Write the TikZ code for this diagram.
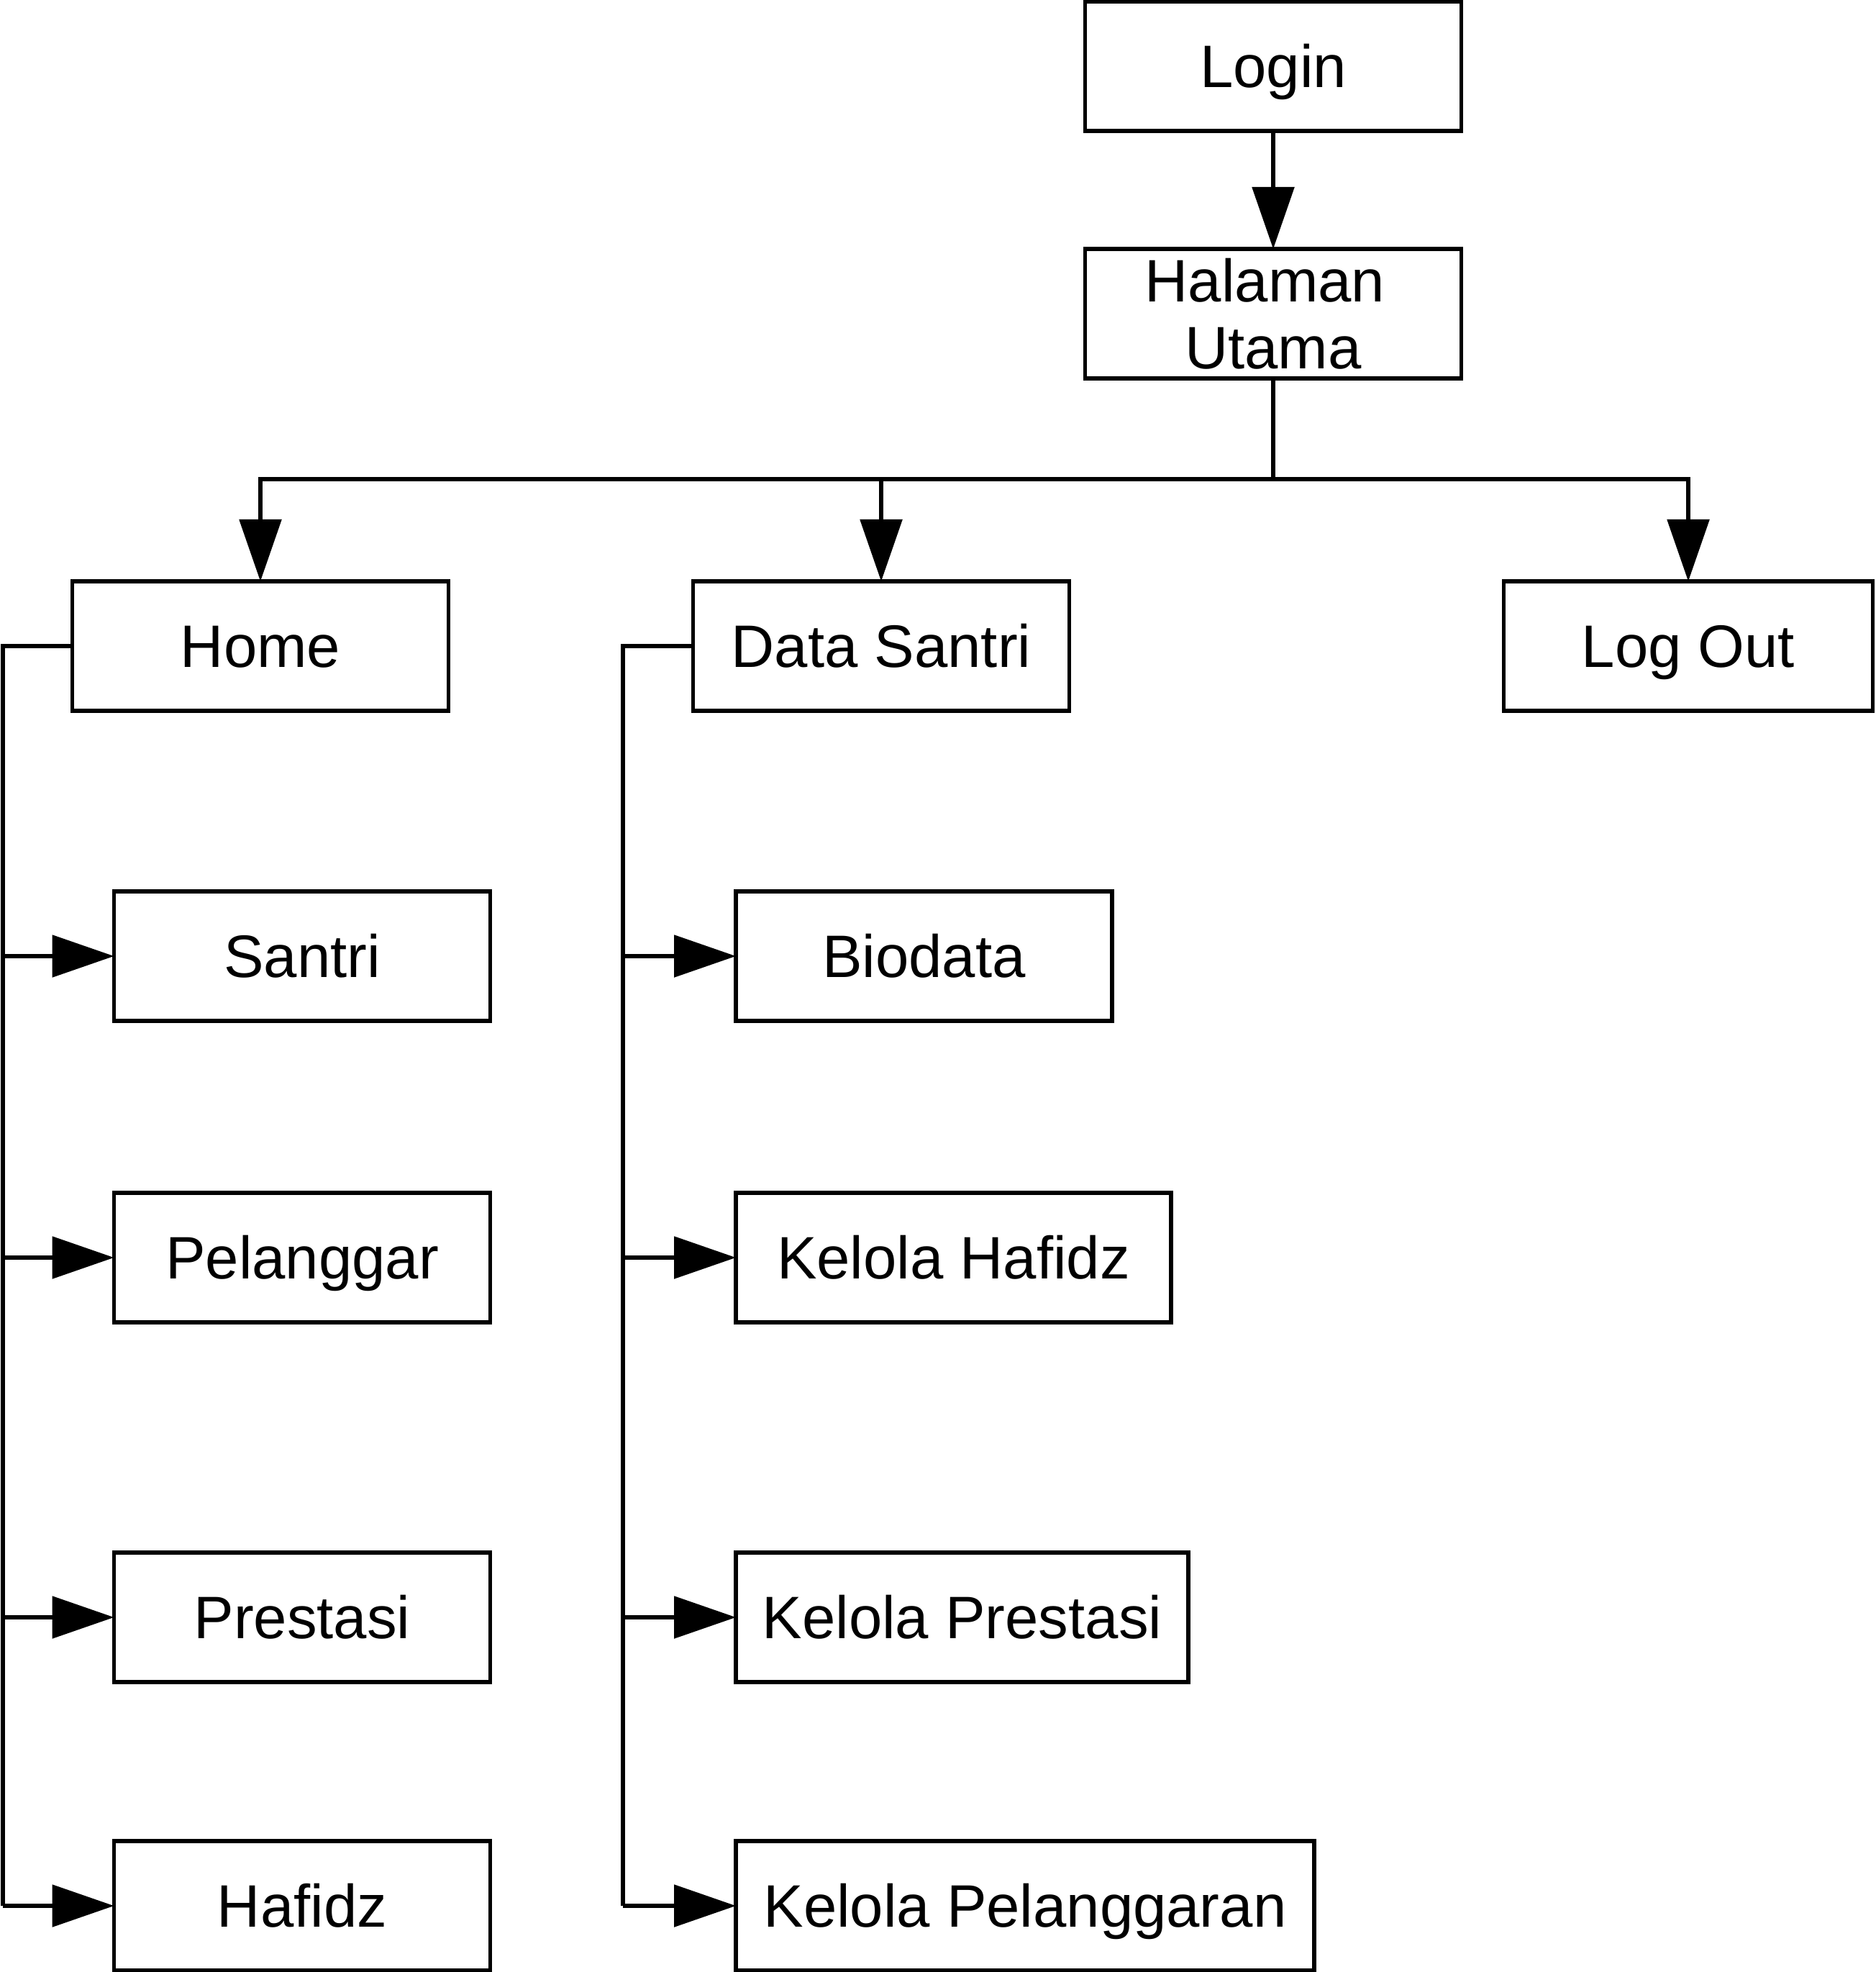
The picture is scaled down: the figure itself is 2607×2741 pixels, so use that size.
\documentclass[tikz,border=0pt]{standalone}
\usepackage{fontspec}
\setmainfont{Liberation Sans}
\usetikzlibrary{arrows.meta}
\begin{document}
\begin{tikzpicture}[x=0.1mm,y=-0.1mm,
  box/.style={draw,line width=0.55mm,inner sep=0pt,outer sep=0pt,minimum height=18mm,
    font=\fontsize{23.7pt}{26.4pt}\selectfont,align=center},
  one/.style={box,text height=17pt,text depth=0pt},
  conn/.style={line width=0.55mm},
  arr/.style={line width=0.55mm,-{Triangle[length=8.6mm,width=5.8mm]}}]
\useasboundingbox (0,0) rectangle (2607,2741);
% top
\node[one,minimum width=52.3mm] (login) at (1770,92) {Login};
\node[box,minimum width=52.3mm] (hal) at (1770,436) {Halaman\hspace*{2.3mm}\\Utama};
\node[one,minimum width=52.3mm] (home) at (362,898) {Home};
\node[one,minimum width=52.3mm] (ds) at (1225,898) {Data Santri};
\node[one,minimum width=51.3mm] (lo) at (2347,898) {Log Out};
% home children
\node[one,minimum width=52.3mm] (santri) at (420,1329) {Santri};
\node[one,minimum width=52.3mm] (pel) at (420,1748) {Pelanggar};
\node[one,minimum width=52.3mm] (pres) at (420,2248) {Prestasi};
\node[one,minimum width=52.3mm] (haf) at (420,2649) {Hafidz};
% data santri children
\node[one,minimum width=52.3mm,anchor=west] (bio) at (1023,1329) {Biodata};
\node[one,minimum width=60.5mm,anchor=west] (khaf) at (1023,1748) {Kelola Hafidz};
\node[one,minimum width=62.9mm,anchor=west] (kpres) at (1023,2248) {Kelola Prestasi};
\node[one,minimum width=80.4mm,anchor=west] (kpel) at (1023,2649) {Kelola Pelanggaran};
% connectors
\coordinate (bus) at (1770,666);
\coordinate (hs) at (4,898);
\coordinate (dss) at (866,898);
\draw[arr] (login.south) -- (hal.north);
\draw[conn] (hal.south) -- (bus);
\draw[arr] (bus) -| (home.north);
\draw[arr] (bus) -| (ds.north);
\draw[arr] (bus) -| (lo.north);
\draw[conn] (home.west) -- (hs) -- (haf.west -| hs);
\draw[arr] (santri.west -| hs) -- (santri.west);
\draw[arr] (pel.west -| hs) -- (pel.west);
\draw[arr] (pres.west -| hs) -- (pres.west);
\draw[arr] (haf.west -| hs) -- (haf.west);
\draw[conn] (ds.west) -- (dss) -- (kpel.west -| dss);
\draw[arr] (bio.west -| dss) -- (bio.west);
\draw[arr] (khaf.west -| dss) -- (khaf.west);
\draw[arr] (kpres.west -| dss) -- (kpres.west);
\draw[arr] (kpel.west -| dss) -- (kpel.west);
\end{tikzpicture}
\end{document}
